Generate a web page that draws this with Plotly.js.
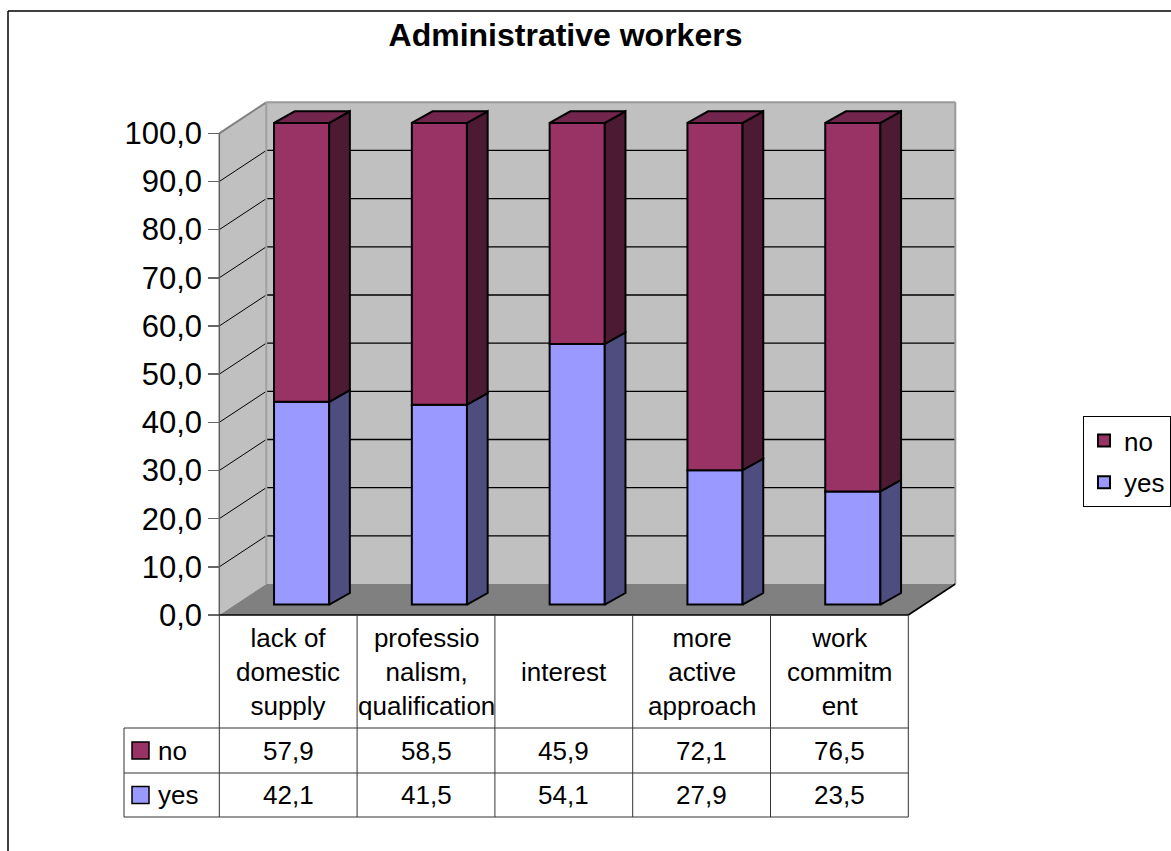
<!DOCTYPE html>
<html>
<head>
<meta charset="utf-8">
<script src="https://cdn.plot.ly/plotly-3.0.1.min.js"></script>
<style>html,body{margin:0;padding:0;background:#fff;}#chart{width:1171px;height:851px;}</style>
</head>
<body>
<div id="chart"></div>
<script>
// ---- data ----
const categories = ['lack of<br>domestic<br>supply', 'professio<br>nalism,<br>qualification', 'interest', 'more<br>active<br>approach', 'work<br>commitm<br>ent'];
const seriesNames = ['yes', 'no'];
const yesVals = [42.1, 41.5, 54.1, 27.9, 23.5];
const noVals = [57.9, 58.5, 45.9, 72.1, 76.5];
const tickVals = [0, 10, 20, 30, 40, 50, 60, 70, 80, 90, 100];
const tickText = tickVals.map(v => v.toFixed(1).replace('.', ','));
const titleText = 'Administrative workers';

// ---- geometry (layout) ----
const W = 1171, H = 851;
const X0PX = 219.3, CATPX = 137.8;   // px of category 0 boundary, px per category
const Y0PX = 615, UNITPX = 4.817;    // px of value 0, px per value unit
const X = px => (px - X0PX) / CATPX;
const Y = py => (Y0PX - py) / UNITPX;
const N = categories.length;
const DX = 47 / CATPX, DY = 31 / UNITPX;          // wall depth
const SX = 13.4 / CATPX, SY = 10.4 / UNITPX;      // bar front-face offset
const BDX = 20.7 / CATPX, BDY = 11.6 / UNITPX;    // bar depth
const BW = 0.4;
const FONT = '"Liberation Sans", Arial, sans-serif';
const fmt = v => v.toFixed(1).replace('.', ',');

const colors = {
  yes: {front: '#9999ff', side: '#4d4d80', top: '#7a7acc'},
  no: {front: '#993366', side: '#4d1a33', top: '#73264d'}
};

const centers = categories.map((c, i) => i + 0.5 + SX);
const yesBase = yesVals.map(() => SY);
const noBase = yesVals.map(v => v + SY);
const totals = yesVals.map((v, i) => v + noVals[i]);

function sides(bottoms, tops) {
  const xs = [], ys = [];
  for (let i = 0; i < N; i++) {
    const xr = centers[i] + BW / 2, b = bottoms[i] + SY, t = tops[i] + SY;
    xs.push(xr, xr + BDX, xr + BDX, xr, xr, null);
    ys.push(b, b + BDY, t + BDY, t, b, null);
  }
  return {xs, ys};
}
function topsPoly(tops) {
  const xs = [], ys = [];
  for (let i = 0; i < N; i++) {
    const xl = centers[i] - BW / 2, xr = centers[i] + BW / 2, t = tops[i] + SY;
    xs.push(xl, xr, xr + BDX, xl + BDX, xl, null);
    ys.push(t, t, t + BDY, t + BDY, t, null);
  }
  return {xs, ys};
}

const ySide = sides(yesVals.map(() => 0), yesVals);
const nSide = sides(yesVals, totals);
const nTop = topsPoly(totals);

const traces = [
  {type: 'bar', name: 'yes', legendgroup: 'yes', legendrank: 2, x: centers, y: yesVals, base: yesBase, width: BW,
   marker: {color: colors.yes.front, line: {color: '#000', width: 2}}, hoverinfo: 'skip'},
  {type: 'bar', name: 'no', legendgroup: 'no', legendrank: 1, x: centers, y: noVals, base: noBase, width: BW,
   marker: {color: colors.no.front, line: {color: '#000', width: 2}}, hoverinfo: 'skip'},
  {type: 'scatter', mode: 'lines', x: ySide.xs, y: ySide.ys, fill: 'toself', fillcolor: colors.yes.side,
   line: {color: '#000', width: 2}, showlegend: false, hoverinfo: 'skip'},
  {type: 'scatter', mode: 'lines', x: nSide.xs, y: nSide.ys, fill: 'toself', fillcolor: colors.no.side,
   line: {color: '#000', width: 2}, showlegend: false, hoverinfo: 'skip'},
  {type: 'scatter', mode: 'lines', x: nTop.xs, y: nTop.ys, fill: 'toself', fillcolor: colors.no.top,
   line: {color: '#000', width: 2}, showlegend: false, hoverinfo: 'skip'}
];

// ---- shapes ----
const shapes = [];
function poly(pts, fill, layer) {
  const d = 'M' + pts.map(p => p[0] + ',' + p[1]).join('L') + 'Z';
  shapes.push({type: 'path', path: d, xref: 'x', yref: 'y', fillcolor: fill, line: {width: 0}, layer: layer || 'below'});
}
function line(x0, y0, x1, y1, color, width, layer) {
  shapes.push({type: 'line', x0, y0, x1, y1, xref: 'x', yref: 'y', line: {color, width}, layer: layer || 'below'});
}
const TOP = tickVals[tickVals.length - 1];
// walls
poly([[0, 0], [0, TOP], [DX, TOP + DY], [DX, DY]], '#c0c0c0');
poly([[DX, DY], [DX, TOP + DY], [N + DX, TOP + DY], [N + DX, DY]], '#c0c0c0');
poly([[0, 0], [N, 0], [N + DX, DY], [DX, DY]], '#808080');
// gridlines
tickVals.slice(1, -1).forEach(v => {
  line(0, v, DX, v + DY, '#000', 1);
  line(DX, v + DY, N + DX, v + DY, '#000', 1.3);
});
// wall edges
line(0, TOP, DX, TOP + DY, '#808080', 2);
line(DX, TOP + DY, N + DX, TOP + DY, '#999', 2);
line(N + DX, TOP + DY, N + DX, DY, '#999', 2);
line(DX, DY, DX, TOP + DY, '#a0a0a0', 2);
line(0, 0, 0, TOP, '#606060', 1.5);
line(N, 0, N + DX, DY, '#000', 1.5);
line(0, 0, N, 0, '#000', 1.5);

// table
const rowTop = Y(728), rowMid = Y(773), rowBot = Y(817), leftX = X(124);
[rowTop, rowMid, rowBot].forEach(y => line(leftX, y, N, y, '#333', 1, 'above'));
line(leftX, rowTop, leftX, rowBot, '#333', 1, 'above');
for (let i = 0; i <= N; i++) line(i, 0, i, rowBot, '#333', 1, 'above');
// table legend keys
const keyX0 = X(132), keyX1 = X(149);
[[seriesNames[1], (rowTop + rowMid) / 2], [seriesNames[0], (rowMid + rowBot) / 2]].forEach(([s, yc]) => {
  const h = 8.5 / UNITPX;
  shapes.push({type: 'rect', xref: 'x', yref: 'y', x0: keyX0, x1: keyX1, y0: yc - h, y1: yc + h,
    fillcolor: colors[s].front, line: {color: '#000', width: 1.5}, layer: 'above'});
});
// outer frame
shapes.push({type: 'line', xref: 'paper', yref: 'paper', x0: 8 / W, x1: 8 / W, y0: 0, y1: 1 - 11 / H, line: {color: '#000', width: 1.5}});
shapes.push({type: 'line', xref: 'paper', yref: 'paper', x0: 8 / W, x1: 1, y0: 1 - 11 / H, y1: 1 - 11 / H, line: {color: '#000', width: 1.5}});

// ---- annotations ----
const annotations = [];
const tfont = {family: FONT, size: 26, color: '#000'};
categories.forEach((c, i) => {
  annotations.push({x: i + 0.5, y: (0 + rowTop) / 2, xref: 'x', yref: 'y', text: c, showarrow: false,
    xanchor: 'center', yanchor: 'middle', align: 'center', font: tfont});
  annotations.push({x: i + 0.5, y: (rowTop + rowMid) / 2, xref: 'x', yref: 'y', text: fmt(noVals[i]), showarrow: false,
    xanchor: 'center', yanchor: 'middle', font: tfont});
  annotations.push({x: i + 0.5, y: (rowMid + rowBot) / 2, xref: 'x', yref: 'y', text: fmt(yesVals[i]), showarrow: false,
    xanchor: 'center', yanchor: 'middle', font: tfont});
});
annotations.push({x: X(156), y: (rowTop + rowMid) / 2, xref: 'x', yref: 'y', text: seriesNames[1], showarrow: false,
  xanchor: 'left', yanchor: 'middle', font: tfont});
annotations.push({x: X(156), y: (rowMid + rowBot) / 2, xref: 'x', yref: 'y', text: seriesNames[0], showarrow: false,
  xanchor: 'left', yanchor: 'middle', font: tfont});

const layout = {
  width: W, height: H,
  margin: {l: 0, r: 0, t: 0, b: 0, pad: 0},
  paper_bgcolor: '#fff', plot_bgcolor: '#fff',
  font: {family: FONT, color: '#000'},
  title: {text: '<b>' + titleText + '</b>', x: 565.5 / W, xanchor: 'center', y: 1 - 35 / H, yanchor: 'middle',
    font: {family: FONT, size: 32, color: '#000'}},
  barmode: 'overlay',
  bargap: 0,
  showlegend: true,
  legend: {x: 1083 / W, xanchor: 'left', y: 1 - 416 / H, yanchor: 'top', traceorder: 'grouped', tracegroupgap: 5,
    font: {family: FONT, size: 26, color: '#000'}, bordercolor: '#000', borderwidth: 1, bgcolor: '#fff'},
  xaxis: {range: [X(0), X(W)], showgrid: false, zeroline: false, showticklabels: false, ticks: '', showline: false, fixedrange: true},
  yaxis: {range: [Y(H), Y(0)], anchor: 'free', position: X0PX / W, tickmode: 'array', tickvals: tickVals, ticktext: tickText,
    ticks: 'outside', ticklen: 11, tickwidth: 1.5, tickcolor: '#666', showgrid: false, zeroline: false, showline: false,
    tickfont: {family: FONT, size: 31, color: '#000'}, fixedrange: true},
  shapes, annotations
};

Plotly.newPlot('chart', traces, layout, {displayModeBar: false, staticPlot: true});
</script>
</body>
</html>
